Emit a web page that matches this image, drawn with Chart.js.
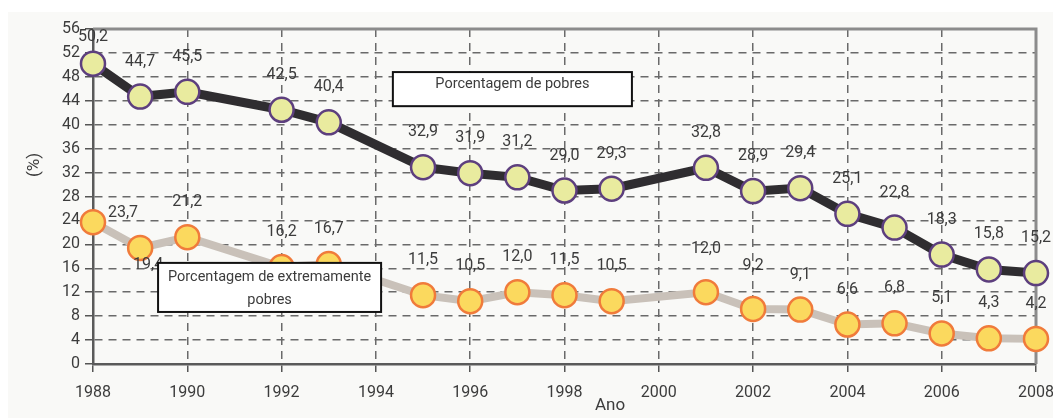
<!DOCTYPE html>
<html>
<head>
<meta charset="utf-8">
<script src="https://cdn.jsdelivr.net/npm/chart.js@4.4.1/dist/chart.umd.min.js"></script>
<style>
  html, body { margin: 0; padding: 0; background: #ffffff; }
  #wrap { width: 1053px; height: 418px; }
</style>
</head>
<body>
<div id="wrap"><canvas id="pobrezaChart" width="1053" height="418"></canvas></div>
<script>
// Dados
const anos = [1988, 1989, 1990, 1992, 1993, 1995, 1996, 1997, 1998, 1999, 2001, 2002, 2003, 2004, 2005, 2006, 2007, 2008];
const pobres = [50.2, 44.7, 45.5, 42.5, 40.4, 32.9, 31.9, 31.2, 29.0, 29.3, 32.8, 28.9, 29.4, 25.1, 22.8, 18.3, 15.8, 15.2];
const extremamentePobres = [23.7, 19.4, 21.2, 16.2, 16.7, 11.5, 10.5, 12.0, 11.5, 10.5, 12.0, 9.2, 9.1, 6.6, 6.8, 5.1, 4.3, 4.2];
const anoTicks = [1988, 1990, 1992, 1994, 1996, 1998, 2000, 2002, 2004, 2006, 2008];

const FONT = 'Roboto, "Liberation Sans", sans-serif';
const TXT = '#3c3c3c';

// label offsets (px) for points whose label is not straight above
const offsetsPobres = { 0: [0, -27] };
const offsetsExtremos = { 0: [30, -9], 1: [8, 17], 10: [0, -43], 11: [0, -43] };

const fundo = {
    id: 'fundo',
    beforeDraw(chart) {
        const ctx = chart.ctx;
        ctx.save();
        ctx.fillStyle = '#ffffff';
        ctx.fillRect(0, 0, chart.width, chart.height);
        ctx.fillStyle = '#f9f9f7';
        ctx.fillRect(8, 12, chart.width - 8, chart.height - 12);
        ctx.restore();
    },
    beforeDatasetsDraw(chart) {
        // top and right frame of the plot
        const { ctx, chartArea: a } = chart;
        ctx.save();
        ctx.strokeStyle = '#8c8c8c';
        ctx.lineWidth = 3;
        ctx.beginPath();
        ctx.moveTo(a.left, a.top);
        ctx.lineTo(a.right, a.top);
        ctx.lineTo(a.right, a.bottom);
        ctx.stroke();
        ctx.restore();
    }
};

const rotulos = {
    id: 'rotulos',
    afterDatasetsDraw(chart) {
        const ctx = chart.ctx;
        ctx.save();
        ctx.font = '16px ' + FONT;
        ctx.fillStyle = TXT;
        ctx.textAlign = 'center';
        ctx.textBaseline = 'middle';
        chart.data.datasets.forEach((ds, di) => {
            const offs = di === 0 ? offsetsPobres : offsetsExtremos;
            chart.getDatasetMeta(di).data.forEach((pt, i) => {
                const o = offs[i] || [0, -35];
                const txt = ds.data[i].y.toFixed(1).replace('.', ',');
                ctx.fillText(txt, pt.x + o[0], pt.y + o[1]);
            });
        });
        ctx.restore();
    },
    afterDraw(chart) {
        const { ctx, scales: { x, y } } = chart;
        ctx.save();
        // legend boxes
        const caixas = [
            { x0: 1994.36, x1: 1999.43, y0: 48.8, y1: 43.1, linhas: ['Porcentagem de pobres'], ty: 12 },
            { x0: 1989.38, x1: 1994.11, y0: 16.9, y1: 8.7, linhas: ['Porcentagem de extremamente', 'pobres'], ty: 14 }
        ];
        caixas.forEach(c => {
            const l = x.getPixelForValue(c.x0), r = x.getPixelForValue(c.x1);
            const t = y.getPixelForValue(c.y0), b = y.getPixelForValue(c.y1);
            ctx.fillStyle = '#ffffff';
            ctx.fillRect(l, t, r - l, b - t);
            ctx.strokeStyle = '#111111';
            ctx.lineWidth = 2;
            ctx.strokeRect(l, t, r - l, b - t);
            ctx.fillStyle = TXT;
            ctx.font = '14.5px ' + FONT;
            ctx.textAlign = 'center';
            ctx.textBaseline = 'middle';
            c.linhas.forEach((s, k) => ctx.fillText(s, (l + r) / 2, t + c.ty + k * 23));
        });
        // axis titles
        ctx.font = '17px ' + FONT;
        ctx.fillText('Ano', 610, 406);
        ctx.translate(35, 165);
        ctx.rotate(-Math.PI / 2);
        ctx.fillText('(%)', 0, 0);
        ctx.restore();
    }
};

window.onload = function () {
    const ctx = document.getElementById('pobrezaChart').getContext('2d');
    new Chart(ctx, {
        type: 'line',
        data: {
            datasets: [{
                label: 'Porcentagem de pobres',
                data: anos.map((a, i) => ({ x: a, y: pobres[i] })),
                borderColor: '#2f2d30',
                borderWidth: 9,
                pointRadius: 12,
                pointBorderWidth: 2.5,
                pointBackgroundColor: '#e9eb9f',
                pointBorderColor: '#5d3f7e',
                clip: false,
                order: 1
            }, {
                label: 'Porcentagem de extremamente pobres',
                data: anos.map((a, i) => ({ x: a, y: extremamentePobres[i] })),
                borderColor: '#c9c1b9',
                borderWidth: 8,
                pointRadius: 12,
                pointBorderWidth: 2.5,
                pointBackgroundColor: '#fbd95e',
                pointBorderColor: '#f07b3b',
                clip: false,
                order: 2
            }]
        },
        options: {
            responsive: false,
            animation: false,
            devicePixelRatio: 1,
            layout: { padding: { left: 0, right: 17, top: 29, bottom: 0 } },
            plugins: { legend: { display: false }, tooltip: { enabled: false } },
            scales: {
                x: {
                    type: 'linear',
                    min: 1988,
                    max: 2008,
                    afterBuildTicks: s => { s.ticks = anoTicks.map(v => ({ value: v })); },
                    afterFit: s => { s.height = 54; s.paddingLeft = 0; s.paddingRight = 0; },
                    ticks: {
                        callback: v => String(v),
                        color: TXT,
                        font: { family: FONT, size: 16 },
                        padding: 11,
                        maxRotation: 0
                    },
                    grid: { color: '#6a6a6a', lineWidth: 1.5, tickLength: 8, tickColor: '#555555', tickBorderDash: [] },
                    border: { color: '#5a5a5a', width: 2.5, dash: [8, 6] }
                },
                y: {
                    min: 0,
                    max: 56,
                    afterFit: s => { s.width = 93; s.paddingTop = 0; s.paddingBottom = 0; },
                    ticks: {
                        stepSize: 4,
                        color: TXT,
                        font: { family: FONT, size: 16 },
                        padding: 5
                    },
                    grid: { color: '#6a6a6a', lineWidth: 1.5, tickLength: 8, tickColor: '#555555', tickBorderDash: [] },
                    border: { color: '#5a5a5a', width: 2.5, dash: [8, 6] }
                }
            }
        },
        plugins: [fundo, rotulos]
    });
};
</script>
</body>
</html>
